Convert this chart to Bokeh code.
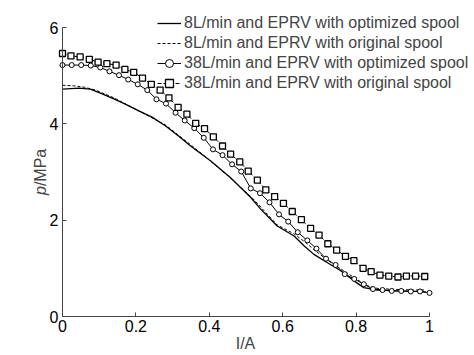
import math
from bokeh.plotting import figure
from bokeh.models import Range1d, FixedTicker, Legend, LegendItem, Label
from bokeh.embed import file_html
from bokeh.resources import INLINE

# ---- data ----
x8_opt = [0, 0.045, 0.076, 0.108, 0.140, 0.171, 0.208, 0.244, 0.280, 0.317, 0.349,
          0.404, 0.458, 0.513, 0.540, 0.585, 0.631, 0.658, 0.685, 0.721, 0.758,
          0.794, 0.821, 0.858, 0.912, 0.960, 0.990]
y8_opt = [4.72, 4.74, 4.72, 4.62, 4.52, 4.41, 4.27, 4.14, 3.96, 3.74, 3.54,
          3.23, 2.88, 2.47, 2.23, 1.88, 1.67, 1.47, 1.29, 1.12, 0.95,
          0.74, 0.60, 0.55, 0.53, 0.52, 0.51]

x8_orig = [0, 0.03, 0.06, 0.09, 0.14, 0.20, 0.28, 0.35, 0.40, 0.46, 0.52,
           0.585, 0.63, 0.66, 0.69, 0.72, 0.76, 0.80, 0.83, 0.86, 0.91, 0.96, 0.99]
y8_orig = [4.80, 4.79, 4.76, 4.70, 4.54, 4.30, 3.98, 3.56, 3.25, 2.86, 2.44,
           1.90, 1.72, 1.55, 1.36, 1.18, 0.98, 0.78, 0.64, 0.58, 0.56, 0.55, 0.55]

x38_opt = [0, 0.025, 0.051, 0.077, 0.103, 0.128, 0.154, 0.179, 0.205, 0.231,
           0.256, 0.282, 0.308, 0.333, 0.359, 0.385, 0.410, 0.436, 0.462, 0.487,
           0.513, 0.538, 0.564, 0.590, 0.615, 0.641, 0.667, 0.692, 0.718, 0.744,
           0.769, 0.795, 0.821, 0.846, 0.872, 0.897, 0.923, 0.949, 0.974, 1.0]
y38_opt = [5.22, 5.22, 5.22, 5.21, 5.17, 5.09, 5.01, 4.92, 4.82, 4.70,
           4.51, 4.42, 4.23, 4.07, 3.91, 3.71, 3.47, 3.35, 3.16, 3.01,
           2.66, 2.56, 2.37, 2.12, 1.97, 1.75, 1.58, 1.41, 1.20, 1.07,
           0.88, 0.78, 0.67, 0.57, 0.55, 0.53, 0.53, 0.52, 0.52, 0.49]

x38_orig = [0, 0.023, 0.048, 0.073, 0.097, 0.121, 0.146, 0.170, 0.194, 0.218,
            0.242, 0.266, 0.290, 0.315, 0.339, 0.363, 0.387, 0.411, 0.436, 0.458,
            0.483, 0.506, 0.531, 0.554, 0.578, 0.602, 0.626, 0.651, 0.676, 0.699,
            0.723, 0.747, 0.771, 0.794, 0.819, 0.841, 0.865, 0.889, 0.914, 0.937,
            0.962, 0.987]
y38_orig = [5.46, 5.41, 5.39, 5.34, 5.28, 5.25, 5.22, 5.13, 5.07, 4.95,
            4.82, 4.70, 4.54, 4.34, 4.20, 4.01, 3.90, 3.73, 3.54, 3.37,
            3.21, 3.02, 2.83, 2.63, 2.49, 2.35, 2.18, 2.01, 1.83, 1.69,
            1.51, 1.38, 1.25, 1.16, 1.00, 0.93, 0.86, 0.84, 0.82, 0.84,
            0.84, 0.83]

x_ticks = [0, 0.2, 0.4, 0.6, 0.8, 1]
x_tick_labels = ["0", "0.2", "0.4", "0.6", "0.8", "1"]
y_ticks = [0, 2, 4, 6]
y_tick_labels = ["0", "2", "4", "6"]

legend_labels = ["8L/min and EPRV with optimized spool",
                 "8L/min and EPRV with original spool",
                 "38L/min and EPRV with optimized spool",
                 "38L/min and EPRV with original spool"]

FONT = "Liberation Sans"

# ---- layout (pixels) ----
W, H = 474, 355
PX_LEFT, PX_RIGHT, PX_TOP, PX_BOTTOM = 62, 429, 27, 316   # data area edges
X0, X1, Y0, Y1 = 0.0, 1.0, 0.0, 6.0
sx = (PX_RIGHT - PX_LEFT) / (X1 - X0)
sy = (PX_BOTTOM - PX_TOP) / (Y1 - Y0)
x_range = Range1d(X0 - PX_LEFT / sx, X1 + (W - PX_RIGHT) / sx)
y_range = Range1d(Y0 - (H - PX_BOTTOM) / sy, Y1 + PX_TOP / sy)

p = figure(width=W, height=H, output_backend="svg", toolbar_location=None,
           x_range=x_range, y_range=y_range,
           min_border_left=0, min_border_right=0, min_border_top=0, min_border_bottom=0)
p.outline_line_color = None
p.grid.visible = False
p.background_fill_color = "white"
p.border_fill_color = "white"

for ax, ticks, labels, bnds in [(p.xaxis[0], x_ticks, x_tick_labels, (X0, X1)),
                                (p.yaxis[0], y_ticks, y_tick_labels, (Y0, Y1))]:
    ax.ticker = FixedTicker(ticks=ticks)
    ax.major_label_overrides = {t: l for t, l in zip(ticks, labels)}
    ax.fixed_location = 0
    ax.bounds = bnds
    ax.major_tick_in = 4
    ax.major_tick_out = 0
    ax.minor_tick_line_color = None
    ax.major_label_text_font = FONT
    ax.major_label_text_font_size = "16px"
    ax.major_label_text_color = "black"
    ax.axis_line_color = "#444444"
    ax.major_tick_line_color = "#444444"
p.xaxis.major_label_standoff = 3
p.yaxis.major_label_standoff = 4

r1 = p.line(x8_opt, y8_opt, line_color="black", line_width=1.3)
r2 = p.line(x8_orig, y8_orig, line_color="black", line_width=1.0, line_dash="3 2")
r3l = p.line(x38_opt, y38_opt, line_color="black", line_width=1.0)
r3m = p.scatter(x38_opt, y38_opt, marker="circle", size=5, fill_color="white",
                line_color="black", line_width=1.0)
r4l = p.line(x38_orig, y38_orig, line_color="black", line_width=1.0, line_dash="4 2")
r4m = p.scatter(x38_orig, y38_orig, marker="square", size=6, fill_color="white",
                line_color="black", line_width=1.3)

legend = Legend(items=[
    LegendItem(label=legend_labels[0], renderers=[r1]),
    LegendItem(label=legend_labels[1], renderers=[r2]),
    LegendItem(label=legend_labels[2], renderers=[r3l, r3m]),
    LegendItem(label=legend_labels[3], renderers=[r4l, r4m]),
], location=(157, H - 93))
legend.padding = 0
legend.margin = 0
legend.spacing = 0
legend.border_line_color = None
legend.background_fill_alpha = 0
legend.glyph_width = 24
legend.glyph_height = 20
legend.label_height = 20
legend.label_standoff = 3
legend.label_text_font = FONT
legend.label_text_font_size = "16px"
p.add_layout(legend, "center")

# axis titles
p.add_layout(Label(x=40, y=H - 185.6, x_units="screen", y_units="screen", text="p",
                   angle=math.pi / 2, text_align="right", text_baseline="middle",
                   text_font=FONT, text_font_size="16px", text_font_style="italic"))
p.add_layout(Label(x=40, y=H - 185.6, x_units="screen", y_units="screen", text="/MPa",
                   angle=math.pi / 2, text_align="left", text_baseline="middle",
                   text_font=FONT, text_font_size="16px"))
p.add_layout(Label(x=245, y=H - 343, x_units="screen", y_units="screen", text="I/A",
                   text_align="center", text_baseline="middle",
                   text_font=FONT, text_font_size="16px"))

open("out.html", "w").write(file_html(p, INLINE))
